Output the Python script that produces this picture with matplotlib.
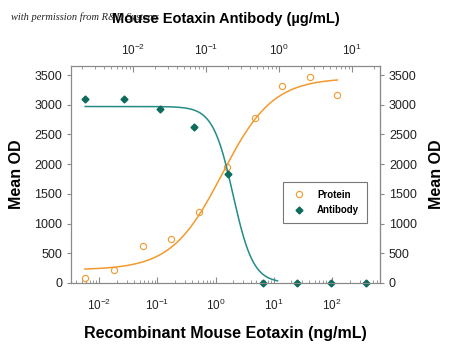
import matplotlib
matplotlib.use('Agg')
import matplotlib.pyplot as plt
import numpy as np

plt.rcParams['font.family'] = ['Liberation Sans', 'DejaVu Sans']

# Recombinant Mouse Eotaxin (ng/mL) vs Mean OD
protein_conc = [0.0057, 0.018, 0.057, 0.17, 0.51, 1.55, 4.7, 13.9, 41.7, 124]
protein_od = [90, 220, 630, 740, 1190, 1960, 2780, 3310, 3460, 3165]

# Mouse Eotaxin Antibody (ug/mL) vs Mean OD
antibody_conc = [0.0022, 0.0075, 0.023, 0.069, 0.20, 0.60, 1.78, 5.2, 15.6]
antibody_od = [3100, 3100, 2925, 2630, 1835, 0, 0, 0, 0]

# estimated 4-parameter logistic fits (bottom, top, ec50, hill)
protein_fit = (220, 3450, 1.3, 1.0)
antibody_fit = (0, 2970, 0.234, -3.15)


def four_pl(x, bottom, top, ec50, hill):
    return bottom + (top - bottom) / (1 + (ec50 / x) ** hill)


orange = '#F29A2E'
teal = '#238C86'
teal_mark = '#0E6B5C'
grey = '#8a8a8a'

fig = plt.figure(figsize=(4.5, 3.48), dpi=100)
ax = fig.add_axes([0.158, 0.187, 0.686, 0.623])
ax2 = ax.twiny()

xp = np.logspace(np.log10(protein_conc[0]), np.log10(protein_conc[-1]), 200)
ax.plot(xp, four_pl(xp, *protein_fit), color=orange, lw=1.1)
ax.plot(protein_conc, protein_od, 'o', mfc='none', mec=orange, ms=4.5, mew=0.8, label='Protein')

xa = np.logspace(np.log10(antibody_conc[0]), np.log10(0.95), 200)
ax2.plot(xa, four_pl(xa, *antibody_fit), color=teal, lw=1.1)
ax2.plot(antibody_conc, antibody_od, 'D', color=teal_mark, ms=3.5, label='Antibody', clip_on=False)

ax.set_xscale('log')
ax2.set_xscale('log')
ax.set_xlim(10 ** -2.48, 10 ** 2.82)
ax2.set_xlim(10 ** -2.85, 10 ** 1.38)
ax.set_ylim(0, 3650)
ax.set_yticks(np.arange(0, 3501, 500))

axr = ax.secondary_yaxis('right')
axr.set_yticks(np.arange(0, 3501, 500))

for a in (ax, ax2):
    for s in a.spines.values():
        s.set_color(grey)
        s.set_linewidth(0.8)
axr.spines['right'].set_color(grey)
axr.spines['right'].set_linewidth(0.8)

for a in (ax, ax2):
    a.tick_params(axis='x', which='both', direction='in', colors=grey, labelcolor='#222222',
                  labelsize=8.5, pad=11)
    a.tick_params(axis='x', which='major', length=4)
    a.tick_params(axis='x', which='minor', length=2.5)
ax2.tick_params(axis='x', pad=6)
ax.tick_params(axis='y', direction='out', length=3, colors=grey, labelcolor='#222222', labelsize=9)
axr.tick_params(axis='y', direction='out', length=3, colors=grey, labelcolor='#222222', labelsize=9)

ax.set_xlabel('Recombinant Mouse Eotaxin (ng/mL)', fontsize=11.5, fontweight='bold', labelpad=9)
ax2.set_xlabel('Mouse Eotaxin Antibody (\u00b5g/mL)', fontsize=10.5, fontweight='bold', labelpad=14)
ax.set_ylabel('Mean OD', fontsize=11.5, fontweight='bold', labelpad=7)
axr.set_ylabel('Mean OD', fontsize=11.5, fontweight='bold', labelpad=9)

h1, l1 = ax.get_legend_handles_labels()
h2, l2 = ax2.get_legend_handles_labels()
leg = ax2.legend(h1 + h2, l1 + l2, loc='upper left', bbox_to_anchor=(0.686, 0.465),
                 borderaxespad=0, frameon=True, fancybox=False, handletextpad=0.9,
                 handlelength=1.8, borderpad=0.8, labelspacing=0.55,
                 prop={'weight': 'bold', 'size': 7})
leg.get_frame().set_edgecolor('#555555')
leg.get_frame().set_linewidth(0.8)

fig.text(0.024, 0.952, 'with permission from R&D Systems', fontsize=7.5, style='italic',
         family='Liberation Serif', color='#222222', va='center')

fig.savefig('out.png', dpi=100)
